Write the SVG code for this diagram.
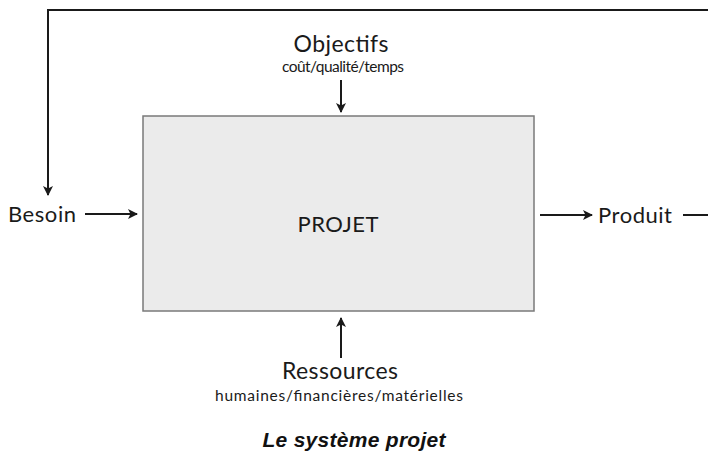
<svg xmlns="http://www.w3.org/2000/svg" width="708" height="458" viewBox="0 0 708 458">
  <defs>
    <marker id="head" viewBox="0 0 10 10" refX="9" refY="5" markerWidth="10" markerHeight="10" markerUnits="userSpaceOnUse" orient="auto">
      <path d="M0,0 L10,5 L0,10 L2.5,5 Z" fill="#1a1a1a"/>
    </marker>
  </defs>
  <style>
    .lbl { font-family: Lato, "Open Sans", "Liberation Sans", sans-serif; fill: #1a1a1a; text-anchor: middle; }
    .big { font-size: 23px; }
    .small { font-size: 15.5px; }
    .edge { stroke: #1a1a1a; stroke-width: 2; fill: none; }
    .cap { font-family: "Liberation Sans", Arial, sans-serif; font-size: 21px; font-weight: bold; font-style: italic; fill: #111; text-anchor: middle; }
  </style>
  <rect width="708" height="458" fill="#ffffff"/>

  <g id="connectors">
    <!-- feedback loop: Produit back to Besoin -->
    <path class="edge" d="M683,215 H712 M710,10 H48 V195" marker-end="url(#head)"/>
    <line class="edge" x1="85" y1="214" x2="137" y2="214" marker-end="url(#head)"/>
    <line class="edge" x1="540" y1="215" x2="592" y2="215" marker-end="url(#head)"/>
    <line class="edge" x1="341" y1="80" x2="341" y2="112" marker-end="url(#head)"/>
    <line class="edge" x1="341" y1="358" x2="341" y2="318" marker-end="url(#head)"/>
  </g>

  <g id="projet">
    <rect x="143" y="116" width="391" height="195" fill="#ebebeb" stroke="#7a7a7a" stroke-width="1.5"/>
    <text class="lbl" x="338" y="232" font-size="22" textLength="81">PROJET</text>
  </g>

  <g id="objectifs">
    <text class="lbl big" x="341" y="52" textLength="95">Objectifs</text>
    <text class="lbl small" x="343" y="72" textLength="122">coût/qualité/temps</text>
  </g>

  <g id="besoin">
    <text class="lbl" x="42" y="222" font-size="22" textLength="68">Besoin</text>
  </g>

  <g id="produit">
    <text class="lbl" x="635" y="223" font-size="22" textLength="74">Produit</text>
  </g>

  <g id="ressources">
    <text class="lbl big" x="340" y="379" textLength="116">Ressources</text>
    <text class="lbl small" x="339" y="401" textLength="248">humaines/financières/matérielles</text>
  </g>

  <text class="cap" x="354" y="447" textLength="183">Le système projet</text>
</svg>
